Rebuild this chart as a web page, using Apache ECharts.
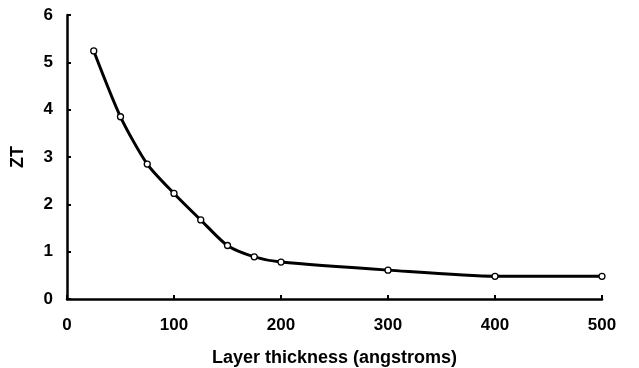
<!DOCTYPE html>
<html>
<head>
<meta charset="utf-8">
<script src="https://cdn.jsdelivr.net/npm/echarts@6/dist/echarts.min.js"></script>
<style>
  html, body { margin: 0; padding: 0; background: #fff; }
  #chart { width: 639px; height: 368px; }
</style>
</head>
<body>
<div id="chart"></div>
<script>
// Layer thickness (angstroms) and the corresponding ZT figure of merit
const thickness = [25, 50, 75, 100, 125, 150, 175, 200, 300, 400, 500];
const zt = [5.24, 3.85, 2.85, 2.23, 1.67, 1.13, 0.89, 0.78, 0.61, 0.48, 0.48];

const xTicks = [0, 100, 200, 300, 400, 500];
const yTicks = [0, 1, 2, 3, 4, 5, 6];

const chart = echarts.init(document.getElementById('chart'));
const font = '"Liberation Sans", Arial, sans-serif';

chart.setOption({
  animation: false,
  backgroundColor: '#fff',
  grid: { left: 67, right: 37, top: 15, bottom: 69, outerBoundsMode: 'none', containLabel: false },
  xAxis: {
    type: 'value',
    min: xTicks[0],
    max: xTicks[xTicks.length - 1],
    interval: 100,
    name: 'Layer thickness (angstroms)',
    nameLocation: 'middle',
    nameGap: 50,
    nameTextStyle: { fontFamily: font, fontWeight: 'bold', fontSize: 18, color: '#000' },
    axisLine: { lineStyle: { color: '#000', width: 2.5 } },
    axisTick: { inside: true, length: 4, lineStyle: { color: '#000', width: 2 } },
    axisLabel: { fontFamily: font, fontWeight: 'bold', fontSize: 17, color: '#000', margin: 18 },
    splitLine: { show: false }
  },
  yAxis: {
    type: 'value',
    min: yTicks[0],
    max: yTicks[yTicks.length - 1],
    interval: 1,
    name: 'ZT',
    nameLocation: 'middle',
    nameGap: 40,
    nameRotate: 90,
    nameTextStyle: { fontFamily: font, fontWeight: 'bold', fontSize: 18, color: '#000' },
    axisLine: { show: true, lineStyle: { color: '#000', width: 2.5 } },
    axisTick: { show: true, inside: true, length: 4, lineStyle: { color: '#000', width: 2 } },
    axisLabel: { fontFamily: font, fontWeight: 'bold', fontSize: 17, color: '#000', margin: 14 },
    splitLine: { show: false }
  },
  series: [{
    type: 'line',
    data: thickness.map((t, i) => [t, zt[i]]),
    smooth: 0.25,
    symbol: 'circle',
    symbolSize: 6,
    itemStyle: { color: '#fff', borderColor: '#000', borderWidth: 1.3 },
    lineStyle: { color: '#000', width: 3 },
    z: 3
  }]
});
</script>
</body>
</html>
